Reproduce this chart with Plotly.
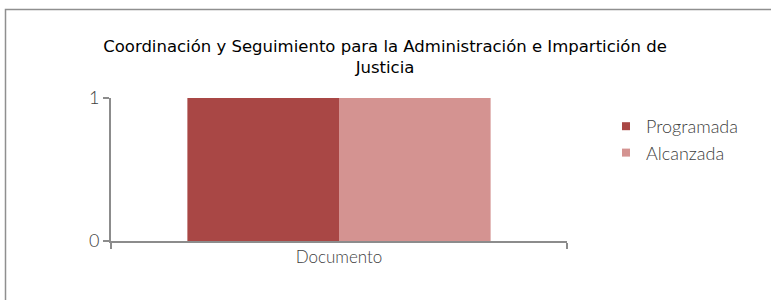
import plotly.graph_objects as go

categories = ["Documento"]
programada = [1]
alcanzada = [1]
series_names = ["Programada", "Alcanzada"]
series_colors = ["#A94745", "#D49391"]
title_text = "Coordinación y Seguimiento para la Administración e Impartición de<br>Justicia"

W, H = 771, 300
L, R, T, B = 111, 771 - 567, 98, 300 - 241
pw, ph = W - L - R, H - T - B

def px_x(p):
    return (p - L) / pw

def px_y(p):
    return (H - B - p) / ph

fig = go.Figure()
for name, vals, col in zip(series_names, [programada, alcanzada], series_colors):
    fig.add_trace(go.Bar(x=categories, y=vals, name=name, showlegend=False,
                         marker=dict(color=col, line=dict(width=0))))
# legend entries with small square symbols
for i, (name, col) in enumerate(zip(series_names, series_colors)):
    fig.add_trace(go.Scatter(x=categories, y=[None], name=name, mode="markers",
                             legendgroup=f"g{i}",
                             marker=dict(symbol="square", size=8, color=col)))

axis_col = "#8c8c8c"
light = "Lato Light, Lato, sans-serif"
fig.update_layout(
    width=W, height=H,
    margin=dict(l=L, r=R, t=T, b=B, pad=0),
    paper_bgcolor="white", plot_bgcolor="white",
    barmode="group", bargap=0.335, bargroupgap=0,
    font=dict(family=light, size=16, color="#404040", weight=300),
    title=dict(text=title_text, xref="container", x=385 / W, xanchor="center",
               y=1 - 52 / H, yanchor="middle",
               font=dict(family="DejaVu Sans, sans-serif", size=16.5, color="#000000", weight=400)),
    showlegend=True,
    legend=dict(x=px_x(606), y=px_y(108), xanchor="left", yanchor="top",
                font=dict(family=light, size=18, color="#404040", weight=300), tracegroupgap=0,
                itemwidth=30, bgcolor="rgba(0,0,0,0)"),
    xaxis=dict(showline=True, linecolor=axis_col, linewidth=2, ticks="outside",
               tickson="boundaries", ticklen=6, tickcolor=axis_col, tickwidth=2,
               showgrid=False, zeroline=False,
               tickfont=dict(family=light, size=17, color="#404040", weight=300)),
    yaxis=dict(range=[0, 1], tickvals=[0, 1], showline=True, linecolor=axis_col, linewidth=2,
               ticks="outside", ticklen=6, tickcolor=axis_col, tickwidth=2,
               showgrid=False, zeroline=False,
               tickfont=dict(family=light, size=18, color="#404040", weight=300)),
    shapes=[dict(type="path", xref="paper", yref="paper",
                 path=f"M {px_x(900)} {px_y(9.5)} L {px_x(5.5)} {px_y(9.5)} L {px_x(5.5)} {px_y(400)}",
                 line=dict(color="#8f8f8f", width=1.5))],
)

fig.write_html("out.html", config={"displayModeBar": False},
               post_script="document.body.style.margin='0';")
